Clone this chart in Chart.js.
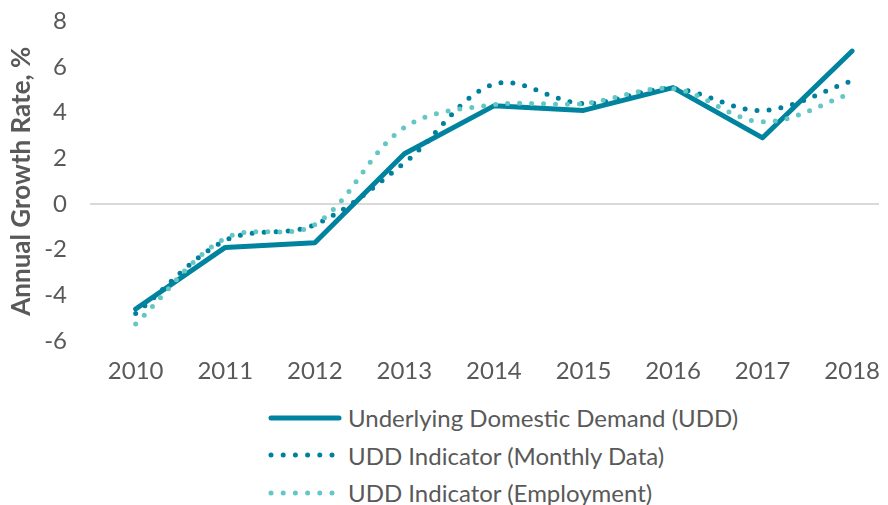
<!DOCTYPE html>
<html>
<head>
<meta charset="utf-8">
<script src="https://cdn.jsdelivr.net/npm/chart.js@4"></script>
<style>
  body { margin: 0; background: #fff; font-family: Lato, sans-serif; overflow: hidden; }
  #wrap { width: 888px; height: 411px; position: absolute; left: 0; top: -16px; }
  #legend { position: absolute; left: 268px; top: 399px; color: #595959; font-size: 24px; }
  .row { display: flex; align-items: center; height: 37.5px; }
  .row svg { margin-right: 4px; }
</style>
</head>
<body>
<div id="wrap"><canvas id="chart1"></canvas></div>
<div id="legend"></div>
<script>
const years = [2010, 2011, 2012, 2013, 2014, 2015, 2016, 2017, 2018];
const udd = [-4.6, -1.9, -1.7, 2.2, 4.3, 4.1, 5.1, 2.9, 6.7];
const monthly = [-4.8, -1.6, -0.9, 1.8, 5.25, 4.4, 5.05, 4.1, 5.4];
const employment = [-5.25, -1.5, -0.9, 3.35, 4.35, 4.4, 5.05, 3.6, 4.85];
const yTicks = [-6, -4, -2, 0, 2, 4, 6, 8];

const names = ["Underlying Domestic Demand (UDD)", "UDD Indicator (Monthly Data)", "UDD Indicator (Employment)"];
const colors = ["#00839F", "#00809E", "#63C7C3"];

const pts = arr => arr.map((v, i) => ({ x: years[i], y: v }));

new Chart(document.getElementById("chart1"), {
  type: "line",
  data: {
    datasets: [
      {
        label: names[2],
        data: pts(employment),
        borderColor: colors[2],
        borderWidth: 5,
        borderDash: [0, 12],
        borderCapStyle: "round",
        tension: 0.35,
        pointRadius: 0
      },
      {
        label: names[1],
        data: pts(monthly),
        borderColor: colors[1],
        borderWidth: 5,
        borderDash: [0, 12],
        borderCapStyle: "round",
        tension: 0.35,
        pointRadius: 0
      },
      {
        label: names[0],
        data: pts(udd),
        borderColor: colors[0],
        borderWidth: 5,
        borderCapStyle: "round",
        borderJoinStyle: "round",
        tension: 0,
        pointRadius: 0
      }
    ]
  },
  options: {
    responsive: true,
    maintainAspectRatio: false,
    animation: false,
    layout: { padding: { top: 0, right: 0, left: 0, bottom: 0 } },
    plugins: { legend: { display: false }, tooltip: { enabled: false } },
    scales: {
      x: {
        type: "linear",
        min: 2009.49,
        max: 2018.3,
        afterBuildTicks: s => { s.ticks = years.map(v => ({ value: v })); },
        afterFit: s => { s.height = 54; },
        grid: { display: false },
        border: { display: false },
        ticks: {
          color: "#595959",
          font: { family: "Lato", size: 24 },
          padding: 8,
          callback: v => String(v)
        }
      },
      y: {
        min: -6,
        max: 8,
        afterBuildTicks: s => { s.ticks = yTicks.map(v => ({ value: v })); },
        afterFit: s => { s.width = 90; },
        border: { display: false },
        grid: {
          drawTicks: false,
          color: c => (c.tick && c.tick.value === 0 ? "#d9d9d9" : "rgba(0,0,0,0)"),
          lineWidth: 2
        },
        ticks: {
          color: "#595959",
          font: { family: "Lato", size: 24 },
          padding: 23
        },
        title: {
          display: true,
          text: "Annual Growth Rate, %",
          color: "#595959",
          font: { family: "Lato", size: 26, weight: "bold" },
          padding: { top: 6, bottom: 0 }
        }
      }
    }
  }
});

// legend rows below the chart
const legend = document.getElementById("legend");
names.forEach((name, i) => {
  const dash = i === 0 ? "" : ' stroke-dasharray="0 12.2"';
  legend.innerHTML +=
    '<div class="row"><svg width="76" height="10"><line x1="3" y1="5" x2="71" y2="5" stroke="' + colors[i] +
    '" stroke-width="5" stroke-linecap="round"' + dash + '/></svg><span>' + name + '</span></div>';
});
</script>
</body>
</html>
